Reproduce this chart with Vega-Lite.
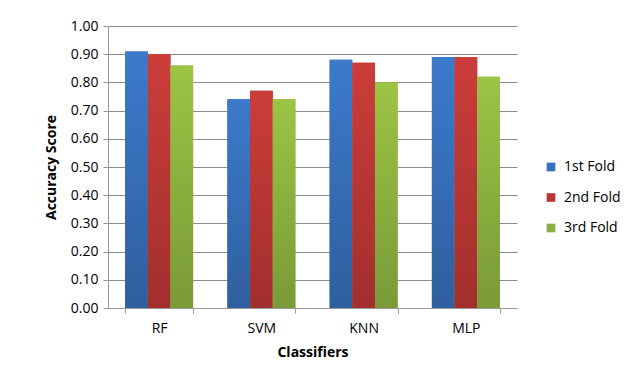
{
  "$schema": "https://vega.github.io/schema/vega-lite/v6.json",
  "autosize": "none",
  "width": 409,
  "height": 282,
  "padding": {"left": 108, "top": 26, "right": 123, "bottom": 75},
  "background": "white",
  "config": {
    "view": {"stroke": null},
    "font": "Open Sans",
    "axis": {"labelFont": "Open Sans", "titleFont": "Open Sans", "labelColor": "#000000", "titleColor": "#000000"}
  },
  "data": {
    "values": [
      {"Classifier": "RF", "Fold": "1st Fold", "Score": 0.91},
      {"Classifier": "RF", "Fold": "2nd Fold", "Score": 0.90},
      {"Classifier": "RF", "Fold": "3rd Fold", "Score": 0.86},
      {"Classifier": "SVM", "Fold": "1st Fold", "Score": 0.74},
      {"Classifier": "SVM", "Fold": "2nd Fold", "Score": 0.77},
      {"Classifier": "SVM", "Fold": "3rd Fold", "Score": 0.74},
      {"Classifier": "KNN", "Fold": "1st Fold", "Score": 0.88},
      {"Classifier": "KNN", "Fold": "2nd Fold", "Score": 0.87},
      {"Classifier": "KNN", "Fold": "3rd Fold", "Score": 0.80},
      {"Classifier": "MLP", "Fold": "1st Fold", "Score": 0.89},
      {"Classifier": "MLP", "Fold": "2nd Fold", "Score": 0.89},
      {"Classifier": "MLP", "Fold": "3rd Fold", "Score": 0.82}
    ]
  },
  "encoding": {
    "x": {
      "field": "Classifier", "type": "nominal", "sort": ["RF", "SVM", "KNN", "MLP"],
      "scale": {"paddingInner": 0.335, "paddingOuter": 0.1675},
      "axis": {
        "title": "Classifiers", "titleFontSize": 14, "titleFontWeight": "bold", "titlePadding": 10,
        "labelAngle": 0, "labelFontSize": 14, "labelPadding": 8,
        "tickBand": "extent", "tickColor": "#9a9a9a", "tickSize": 5,
        "domainColor": "#9a9a9a", "grid": false
      }
    },
    "xOffset": {"field": "Fold", "type": "nominal", "sort": ["1st Fold", "2nd Fold", "3rd Fold"]},
    "y": {
      "field": "Score", "type": "quantitative",
      "scale": {"domain": [0, 1]},
      "axis": {
        "title": "Accuracy Score", "titleFontSize": 14, "titleFontWeight": "bold", "titlePadding": 12,
        "values": [0, 0.1, 0.2, 0.3, 0.4, 0.5, 0.6, 0.7, 0.8, 0.9, 1.0],
        "format": ".2f", "labelFontSize": 14, "labelPadding": 5,
        "tickColor": "#9a9a9a", "tickSize": 5, "domainColor": "#9a9a9a",
        "gridColor": "#8c8c8c", "gridOpacity": 1
      }
    }
  },
  "layer": [
    {
      "mark": {"type": "bar"},
      "encoding": {
        "color": {
          "field": "Fold", "type": "nominal",
          "scale": {"domain": ["1st Fold", "2nd Fold", "3rd Fold"], "range": ["#3670BC", "#BA3633", "#8BAF40"]},
          "legend": {
            "title": null, "orient": "none", "legendX": 436, "legendY": 134,
            "labelFontSize": 14, "labelFont": "Open Sans", "labelColor": "#000000",
            "symbolType": "square", "symbolSize": 75, "symbolStrokeWidth": 0,
            "rowPadding": 16.5, "labelOffset": 6
          }
        }
      }
    },
    {
      "transform": [{"filter": "datum.Fold === '1st Fold'"}],
      "mark": {"type": "bar", "color": {"gradient": "linear", "x1": 0, "y1": 0, "x2": 0, "y2": 1,
        "stops": [{"offset": 0, "color": "#3C7ACC"}, {"offset": 1, "color": "#2F5F9E"}]}},
      "encoding": {}
    },
    {
      "transform": [{"filter": "datum.Fold === '2nd Fold'"}],
      "mark": {"type": "bar", "color": {"gradient": "linear", "x1": 0, "y1": 0, "x2": 0, "y2": 1,
        "stops": [{"offset": 0, "color": "#CB3D3A"}, {"offset": 1, "color": "#A22F2D"}]}},
      "encoding": {}
    },
    {
      "transform": [{"filter": "datum.Fold === '3rd Fold'"}],
      "mark": {"type": "bar", "color": {"gradient": "linear", "x1": 0, "y1": 0, "x2": 0, "y2": 1,
        "stops": [{"offset": 0, "color": "#9CC444"}, {"offset": 1, "color": "#7A9A38"}]}},
      "encoding": {}
    }
  ]
}
